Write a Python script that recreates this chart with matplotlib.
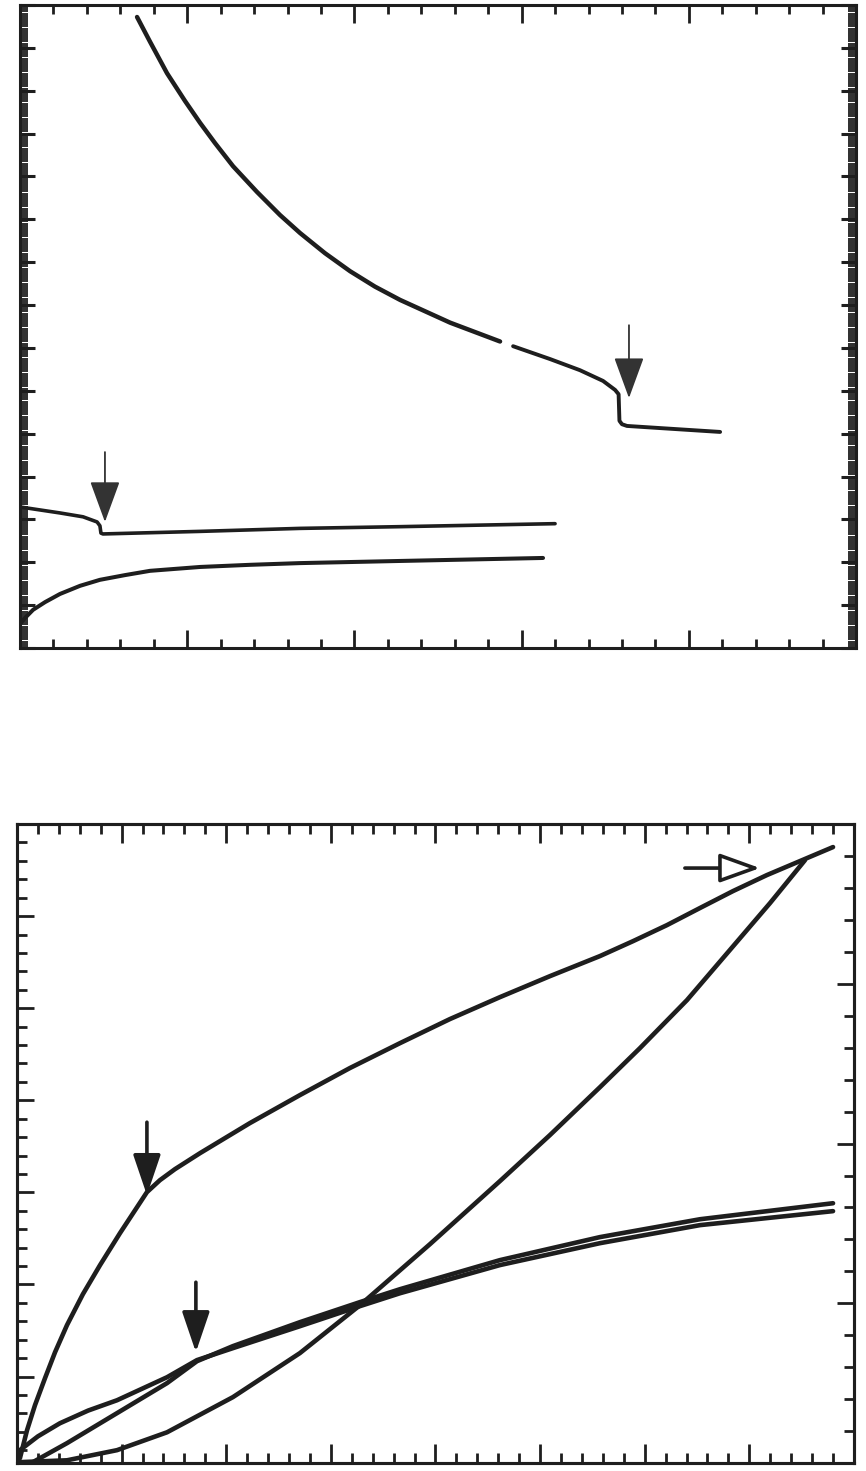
import numpy as np
import matplotlib
matplotlib.use("Agg")
import matplotlib.pyplot as plt
from matplotlib.ticker import MultipleLocator

# top panel: three traces (x 0..50, y 0..15)
upper_a_x = [7.00, 7.78, 8.79, 9.87, 10.77, 11.66, 12.74, 14.17, 15.55, 16.75, 18.24,
             19.74, 21.23, 22.73, 25.72, 28.71]
upper_a_y = [14.72, 14.14, 13.41, 12.76, 12.25, 11.78, 11.24, 10.64, 10.10, 9.68, 9.21,
             8.79, 8.43, 8.12, 7.59, 7.15]
upper_b_x = [29.49, 31.70, 33.49, 34.87, 35.59, 35.80, 35.85, 36.0, 36.30, 38.28, 41.87]
upper_b_y = [7.04, 6.74, 6.48, 6.23, 6.02, 5.92, 5.30, 5.22, 5.18, 5.13, 5.04]
mid_x = [0.0, 2.39, 3.77, 4.61, 4.78, 4.84, 4.96, 10.77, 16.75, 22.73, 32.0]
mid_y = [3.29, 3.15, 3.06, 2.94, 2.85, 2.68, 2.66, 2.72, 2.79, 2.83, 2.90]
low_x = [0.0, 0.30, 0.78, 1.50, 2.39, 3.59, 4.78, 6.28, 7.78, 10.77, 13.76, 16.75, 22.73, 31.28]
low_y = [0.56, 0.70, 0.89, 1.07, 1.26, 1.45, 1.59, 1.70, 1.80, 1.89, 1.94, 1.98, 2.03, 2.10]
top_arrows = [(5.08, 4.57, 2.94), (36.42, 7.53, 5.83)]  # x, tail y, tip y

# bottom panel: loops (x 0..40, y 0.3..35)
load_x = [0.14, 0.48, 0.86, 1.34, 1.82, 2.39, 3.15, 3.97, 4.92, 6.21, 6.83, 7.55, 8.75,
          11.13, 13.52, 15.91, 18.30, 20.69, 23.08, 25.47, 27.86, 29.44, 31.06, 32.64,
          34.22, 35.84, 37.42, 39.00]
load_y = [0.56, 2.08, 3.44, 4.91, 6.32, 7.79, 9.47, 11.05, 12.78, 15.01, 15.66, 16.26,
          17.13, 18.76, 20.28, 21.75, 23.10, 24.41, 25.60, 26.74, 27.83, 28.64, 29.51,
          30.44, 31.36, 32.23, 32.99, 33.75]
unload_x = [37.66, 35.99, 34.07, 32.02, 29.77, 27.86, 25.47, 23.08, 19.74, 16.39, 13.52,
            10.32, 7.17, 4.78, 2.39, 0.14]
unload_y = [33.04, 30.71, 28.16, 25.44, 22.83, 20.71, 18.11, 15.61, 12.19, 8.87, 6.27,
            3.88, 1.97, 1.00, 0.45, 0.35]
smooth_x = [0.14, 1.00, 2.05, 3.40, 4.78, 7.17, 8.60, 10.32, 13.52, 16.39, 18.30, 23.08,
            27.86, 32.64, 39.00]
smooth_y = [1.00, 1.75, 2.46, 3.15, 3.71, 4.96, 5.89, 6.54, 7.73, 8.82, 9.52, 11.05,
            12.24, 13.22, 13.98]
knee_x = [0.76, 2.39, 4.78, 7.17, 8.60, 10.32, 13.52, 16.39, 18.30, 23.08, 27.86, 32.64, 39.00]
knee_y = [0.35, 1.38, 3.01, 4.64, 5.83, 6.65, 7.95, 9.04, 9.74, 11.32, 12.57, 13.54, 14.41]
bot_arrows = [(6.21, 18.81, 14.85), (8.55, 10.12, 6.32)]
open_arrow = (31.92, 35.51, 32.61)  # tail x, tip x, y

ink = '#1e1e1e'

fig = plt.figure(figsize=(8.66, 14.71), dpi=100)
ax1 = fig.add_axes([0.0231, 0.5595, 0.9654, 0.4371])
ax2 = fig.add_axes([0.0196, 0.0054, 0.9665, 0.4344])

# top panel
ax1.plot(upper_a_x, upper_a_y, color=ink, lw=3.2, solid_capstyle='round', solid_joinstyle='round')
ax1.plot(upper_b_x, upper_b_y, color=ink, lw=2.8, solid_capstyle='round', solid_joinstyle='round')
ax1.plot(mid_x, mid_y, color=ink, lw=2.6, solid_capstyle='round', solid_joinstyle='round')
ax1.plot(low_x, low_y, color=ink, lw=2.9, solid_capstyle='round', solid_joinstyle='round')
for x, y0, y1 in top_arrows:
    ax1.annotate('', xy=(x, y1), xytext=(x, y0),
                 arrowprops=dict(arrowstyle='-|>,head_length=26,head_width=9.5',
                                 mutation_scale=1, lw=1.3, color='#333333',
                                 shrinkA=0, shrinkB=0))
ax1.set_xlim(0, 50)
ax1.set_ylim(0, 15)
ax1.xaxis.set_major_locator(MultipleLocator(10))
ax1.xaxis.set_minor_locator(MultipleLocator(2))
ax1.yaxis.set_major_locator(MultipleLocator(1))
ax1.yaxis.set_minor_locator(MultipleLocator(0.05))
ax1.tick_params(axis='x', which='major', length=13, width=2, direction='in', top=True, bottom=True)
ax1.tick_params(axis='x', which='minor', length=6.5, width=2, direction='in', top=True, bottom=True)
ax1.tick_params(axis='y', which='major', length=11, width=2.2, direction='in', left=True, right=True)
ax1.tick_params(axis='y', which='minor', length=6, width=1.3, direction='in', left=True, right=True)

# bottom panel
for xs, ys in [(load_x, load_y), (unload_x, unload_y), (smooth_x, smooth_y), (knee_x, knee_y)]:
    ax2.plot(xs, ys, color=ink, lw=3.3, solid_capstyle='round', solid_joinstyle='round')
for x, y0, y1 in bot_arrows:
    ax2.annotate('', xy=(x, y1), xytext=(x, y0),
                 arrowprops=dict(arrowstyle='-|>,head_length=25,head_width=8.5',
                                 mutation_scale=1, lw=2.6, color=ink,
                                 shrinkA=0, shrinkB=0))
ax2.annotate('', xy=(open_arrow[1], open_arrow[2]), xytext=(open_arrow[0], open_arrow[2]),
             arrowprops=dict(arrowstyle='-|>,head_length=25,head_width=9',
                             mutation_scale=1, lw=2.6, edgecolor=ink, facecolor='white',
                             shrinkA=0, shrinkB=0))
ax2.set_xlim(0, 40)
ax2.set_ylim(0.3, 35)
ax2.xaxis.set_major_locator(MultipleLocator(5))
ax2.xaxis.set_minor_locator(MultipleLocator(1))
ax2.yaxis.set_major_locator(MultipleLocator(5))
ax2.yaxis.set_minor_locator(MultipleLocator(1))
ax2.tick_params(axis='x', which='major', length=13.5, width=2, direction='in', top=True, bottom=True)
ax2.tick_params(axis='x', which='minor', length=7, width=2, direction='in', top=True, bottom=True)
ax2.tick_params(axis='y', which='major', length=12, width=2, direction='in', left=True, right=False)
ax2.tick_params(axis='y', which='minor', length=7, width=2, direction='in', left=True, right=False)

ax2r = ax2.twinx()
ax2r.set_ylim(0, 20)
ax2r.yaxis.set_major_locator(MultipleLocator(5))
ax2r.yaxis.set_minor_locator(MultipleLocator(1))
ax2r.tick_params(axis='y', which='major', length=12, width=2, direction='in')
ax2r.tick_params(axis='y', which='minor', length=7, width=2, direction='in')

for ax in (ax1, ax2, ax2r):
    ax.tick_params(which='both', color=ink, labelleft=False, labelbottom=False,
                   labeltop=False, labelright=False)
    for s in ax.spines.values():
        s.set_linewidth(2.2)
        s.set_color(ink)

fig.savefig('out.png', dpi=100)
